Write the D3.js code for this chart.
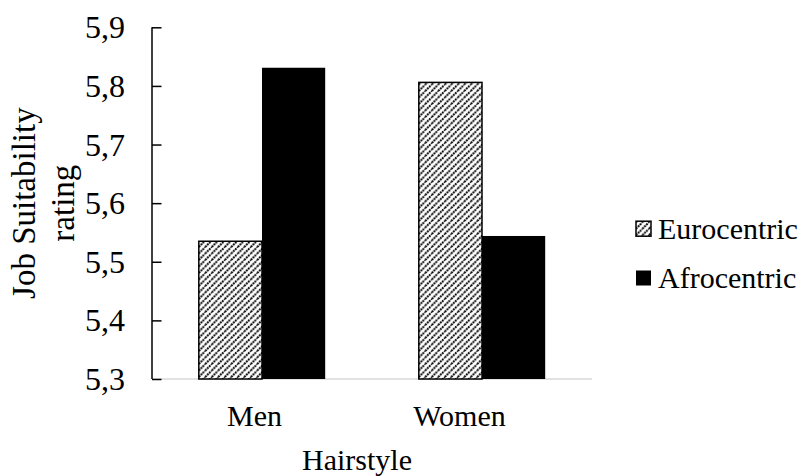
<!DOCTYPE html>
<html>
<head>
<meta charset="utf-8">
<script src="https://cdn.jsdelivr.net/npm/d3@7"></script>
<style>
  html, body { margin: 0; padding: 0; background: #fff; }
</style>
</head>
<body>
<svg id="chart" width="808" height="476" font-family="Liberation Serif, Times New Roman, serif"></svg>
<script>
// Mean job suitability ratings by gender and hairstyle
const categories = ["Men", "Women"];
const seriesNames = ["Eurocentric", "Afrocentric"];
const eurocentric = [5.535, 5.806];
const afrocentric = [5.831, 5.544];
const yTicks = [5.3, 5.4, 5.5, 5.6, 5.7, 5.8, 5.9];
const yTickLabels = ["5,3", "5,4", "5,5", "5,6", "5,7", "5,8", "5,9"];

const svg = d3.select("#chart");
const SERIF = "Liberation Serif";
const FONT = 30;

const plot = { left: 152, right: 592, top: 27.3, bottom: 379 };

const y = d3.scaleLinear().domain([5.3, 5.9]).range([plot.bottom, plot.top]);

const pad = 0.4255;
const x = d3.scaleBand().domain(categories)
  .range([plot.left, plot.right])
  .paddingInner(pad).paddingOuter(pad / 2);
const xSub = d3.scaleBand().domain(seriesNames).range([0, x.bandwidth()]);

// category labels sit on a slightly narrower span
const xLabel = d3.scaleBand().domain(categories).range([plot.left, 562]);

// diagonal hatch fill: dotted upward stripes
const defs = svg.append("defs");
const P = 6.5;
const pat = defs.append("pattern")
  .attr("id", "hatch")
  .attr("patternUnits", "userSpaceOnUse")
  .attr("width", P).attr("height", P);
pat.append("rect").attr("width", P).attr("height", P).attr("fill", "#fff");
pat.append("path")
  .attr("d", `M0,${P} L${P},0 M-2,2 L2,-2 M${P - 2},${P + 2} L${P + 2},${P - 2}`)
  .attr("stroke", "#000").attr("stroke-width", 2)
  .attr("stroke-dasharray", "1.8,0.9");

const fills = { Eurocentric: "url(#hatch)", Afrocentric: "#000" };

const rows = categories.map((c, i) => ({
  cat: c,
  vals: [
    { s: "Eurocentric", v: eurocentric[i] },
    { s: "Afrocentric", v: afrocentric[i] }
  ]
}));

// x baseline
svg.append("line")
  .attr("x1", plot.left).attr("x2", plot.right)
  .attr("y1", y(5.3)).attr("y2", y(5.3))
  .attr("stroke", "#d9d9d9").attr("stroke-width", 1.5);

// bars
const groups = svg.selectAll("g.cat").data(rows).join("g")
  .attr("class", "cat")
  .attr("transform", d => `translate(${x(d.cat)},0)`);

groups.selectAll("rect").data(d => d.vals).join("rect")
  .attr("x", d => xSub(d.s))
  .attr("width", xSub.bandwidth())
  .attr("y", d => y(d.v))
  .attr("height", d => y(5.3) - y(d.v))
  .attr("fill", d => fills[d.s])
  .attr("stroke", "#000")
  .attr("stroke-width", d => d.s === "Eurocentric" ? 1.5 : 0);

// y axis with inward ticks
const yAxis = d3.axisRight(y)
  .tickValues(yTicks)
  .tickSize(9.5)
  .tickFormat((d, i) => yTickLabels[i]);

const gy = svg.append("g")
  .attr("transform", `translate(${plot.left},0)`)
  .call(yAxis)
  .attr("font-family", SERIF)
  .attr("font-size", 32);
gy.select(".domain").attr("stroke", "#000").attr("stroke-width", 1.5)
  .attr("d", `M0,${plot.top}V${plot.bottom}`);
gy.selectAll(".tick line").attr("stroke", "#000").attr("stroke-width", 1.5);
gy.selectAll(".tick text")
  .attr("x", -27).attr("text-anchor", "end")
  .attr("fill", "#000")
  .attr("dy", "0.33em");

// category labels
svg.selectAll("text.catlabel").data(categories).join("text")
  .attr("class", "catlabel")
  .attr("x", d => xLabel(d) + xLabel.bandwidth() / 2)
  .attr("y", 426)
  .attr("text-anchor", "middle")
  .attr("font-family", SERIF)
  .attr("font-size", FONT)
  .text(d => d);

// axis titles
svg.append("text")
  .attr("x", (plot.left + 562) / 2).attr("y", 470)
  .attr("text-anchor", "middle")
  .attr("font-family", SERIF)
  .attr("font-size", FONT)
  .text("Hairstyle");

const yTitle = svg.append("text")
  .attr("transform", `translate(0,${(plot.top + plot.bottom) / 2}) rotate(-90)`)
  .attr("text-anchor", "middle")
  .attr("font-family", SERIF)
  .attr("font-size", 33);
yTitle.append("tspan").attr("x", 0).attr("y", 35).text("Job Suitability");
yTitle.append("tspan").attr("x", 0).attr("y", 74).text("rating");

// legend
const legend = svg.append("g").attr("transform", "translate(636,0)");
const legendY = [228.7, 278];
const li = legend.selectAll("g").data(seriesNames).join("g")
  .attr("transform", (d, i) => `translate(0,${legendY[i]})`);
li.append("rect")
  .attr("x", 0).attr("y", -7.5)
  .attr("width", 15).attr("height", 15)
  .attr("fill", d => fills[d])
  .attr("stroke", "#000")
  .attr("stroke-width", d => d === "Eurocentric" ? 1.5 : 0);
li.append("text")
  .attr("x", 22).attr("y", 0).attr("dy", "0.33em")
  .attr("font-family", SERIF)
  .attr("font-size", FONT)
  .text(d => d);
</script>
</body>
</html>
